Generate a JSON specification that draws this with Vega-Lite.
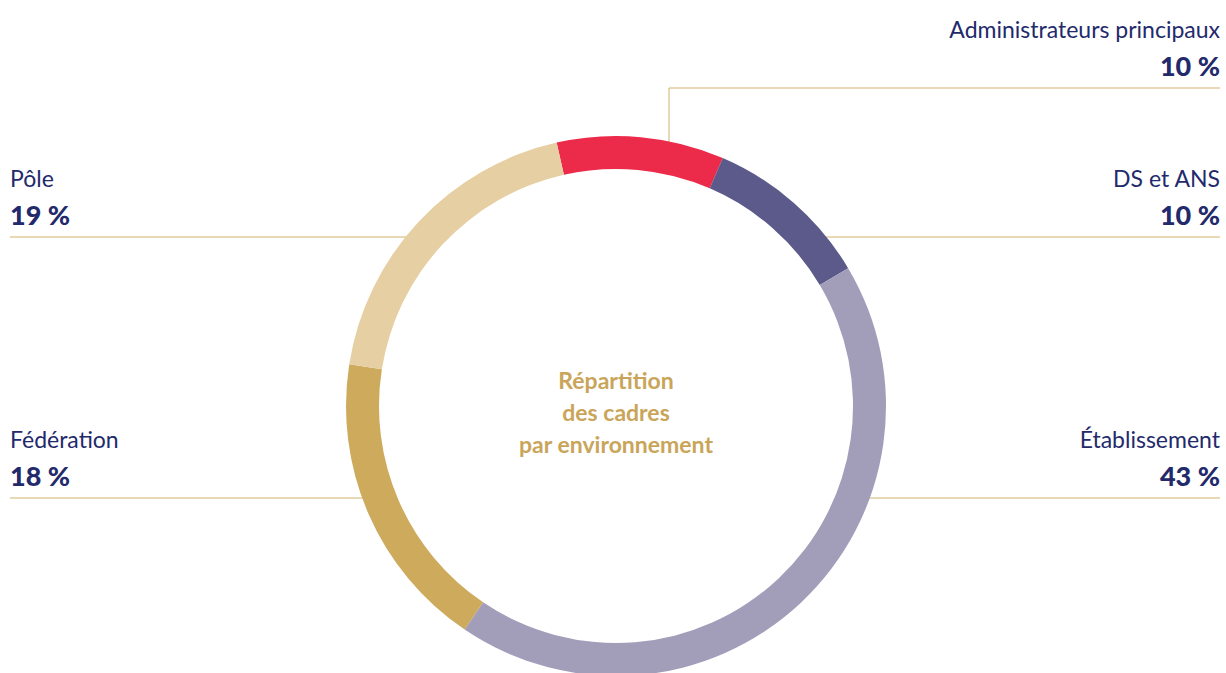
{
  "$schema": "https://vega.github.io/schema/vega-lite/v6.json",
  "width": 1226,
  "height": 673,
  "autosize": "none",
  "padding": 0,
  "background": "white",
  "config": {"view": {"stroke": null}},
  "datasets": {
    "parts": [
      {"category": "Administrateurs principaux", "value": 10, "pctLabel": "10 %", "rank": 1, "side": "right", "lineY": 88},
      {"category": "DS et ANS", "value": 10, "pctLabel": "10 %", "rank": 2, "side": "right", "lineY": 237},
      {"category": "Établissement", "value": 43, "pctLabel": "43 %", "rank": 3, "side": "right", "lineY": 498},
      {"category": "Fédération", "value": 18, "pctLabel": "18 %", "rank": 4, "side": "left", "lineY": 498},
      {"category": "Pôle", "value": 19, "pctLabel": "19 %", "rank": 5, "side": "left", "lineY": 237}
    ],
    "leaders": [
      {"segment": "Administrateurs principaux (vertical)", "x1": 669, "x2": 669, "y1": 88, "y2": 150},
      {"segment": "Administrateurs principaux", "x1": 669, "x2": 1220, "y1": 88, "y2": 88},
      {"segment": "DS et ANS", "x1": 815, "x2": 1220, "y1": 237, "y2": 237},
      {"segment": "Établissement", "x1": 860, "x2": 1220, "y1": 498, "y2": 498},
      {"segment": "Fédération", "x1": 10, "x2": 372, "y1": 498, "y2": 498},
      {"segment": "Pôle", "x1": 10, "x2": 418, "y1": 237, "y2": 237}
    ]
  },
  "layer": [
    {
      "data": {"name": "leaders"},
      "mark": {"type": "rule", "color": "#d3b06c", "strokeWidth": 1},
      "encoding": {
        "x": {"field": "x1", "type": "quantitative", "scale": {"domain": [0, 1226], "nice": false, "zero": false}, "axis": null},
        "x2": {"field": "x2"},
        "y": {"field": "y1", "type": "quantitative", "scale": {"domain": [0, 673], "nice": false, "zero": false, "reverse": true}, "axis": null},
        "y2": {"field": "y2"}
      }
    },
    {
      "data": {"name": "parts"},
      "mark": {"type": "arc", "outerRadius": 270, "innerRadius": 237},
      "encoding": {
        "x": {"datum": 616, "type": "quantitative"},
        "y": {"datum": 406, "type": "quantitative"},
        "theta": {"field": "value", "type": "quantitative", "stack": true, "scale": {"range": [-0.2217, 6.0615]}},
        "order": {"field": "rank", "type": "quantitative"},
        "color": {
          "field": "category", "type": "nominal",
          "scale": {
            "domain": ["Administrateurs principaux", "DS et ANS", "Établissement", "Fédération", "Pôle"],
            "range": ["#ec2a4a", "#5b5a8b", "#a29eba", "#cdaa5c", "#e6cfa2"]
          },
          "legend": null
        }
      }
    },
    {
      "data": {"name": "parts"},
      "transform": [{"filter": "datum.side === 'right'"}],
      "layer": [
        {
          "mark": {"type": "text", "align": "right", "baseline": "alphabetic", "dy": -50, "font": "Lato", "fontSize": 23, "color": "#232a6c"},
          "encoding": {"x": {"datum": 1220, "type": "quantitative"}, "y": {"field": "lineY", "type": "quantitative"}, "text": {"field": "category"}}
        },
        {
          "mark": {"type": "text", "align": "right", "baseline": "alphabetic", "dy": -12, "font": "Lato", "fontSize": 27, "fontWeight": 900, "color": "#232a6c"},
          "encoding": {"x": {"datum": 1220, "type": "quantitative"}, "y": {"field": "lineY", "type": "quantitative"}, "text": {"field": "pctLabel"}}
        }
      ]
    },
    {
      "data": {"name": "parts"},
      "transform": [{"filter": "datum.side === 'left'"}],
      "layer": [
        {
          "mark": {"type": "text", "align": "left", "baseline": "alphabetic", "dy": -50, "font": "Lato", "fontSize": 23, "color": "#232a6c"},
          "encoding": {"x": {"datum": 10, "type": "quantitative"}, "y": {"field": "lineY", "type": "quantitative"}, "text": {"field": "category"}}
        },
        {
          "mark": {"type": "text", "align": "left", "baseline": "alphabetic", "dy": -12, "font": "Lato", "fontSize": 27, "fontWeight": 900, "color": "#232a6c"},
          "encoding": {"x": {"datum": 10, "type": "quantitative"}, "y": {"field": "lineY", "type": "quantitative"}, "text": {"field": "pctLabel"}}
        }
      ]
    },
    {
      "data": {"values": [{"title": "Répartition des cadres par environnement"}]},
      "mark": {"type": "text", "align": "center", "baseline": "middle", "font": "Lato", "fontSize": 23, "fontWeight": "bold", "color": "#c9a55a", "lineHeight": 32},
      "encoding": {
        "x": {"datum": 616, "type": "quantitative"},
        "y": {"datum": 382, "type": "quantitative"},
        "text": {"value": ["Répartition", "des cadres", "par environnement"]}
      }
    }
  ]
}
